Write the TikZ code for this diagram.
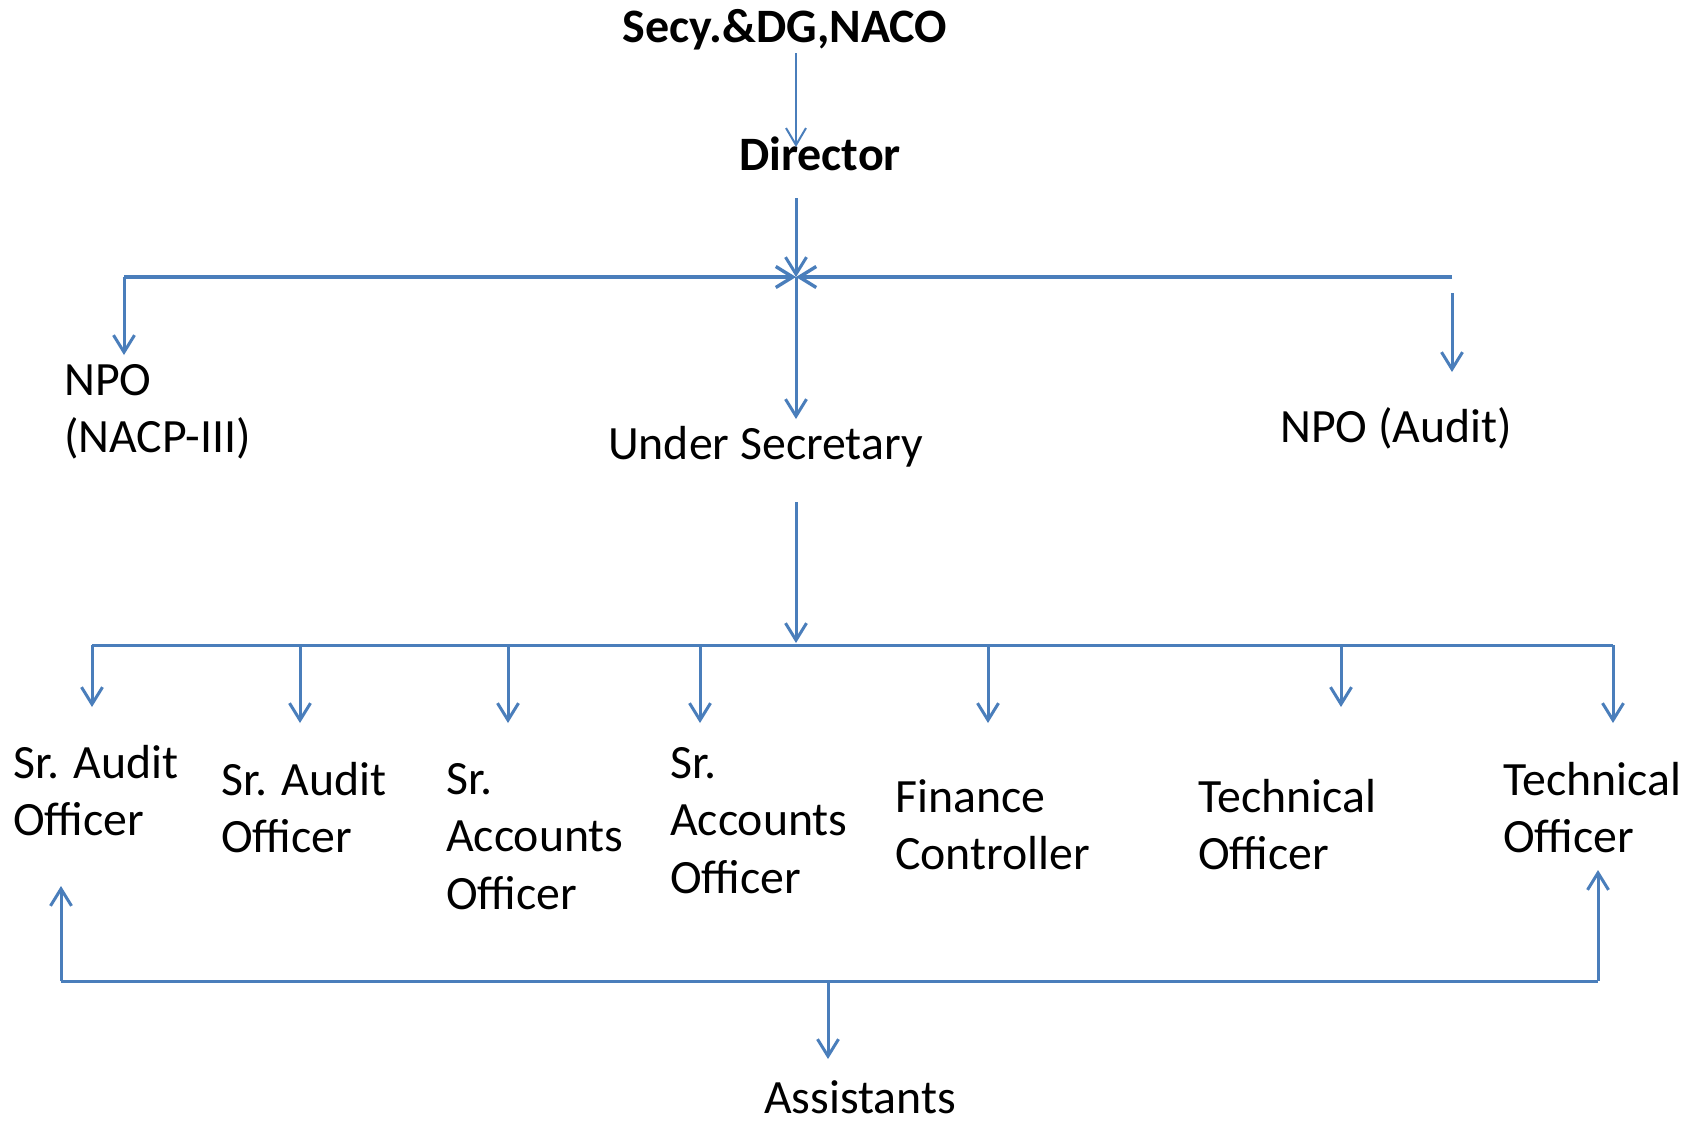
\documentclass[tikz,border=0pt]{standalone}
\usepackage{fontspec}
\setmainfont{Carlito}
\usetikzlibrary{arrows.meta}
\definecolor{lineblue}{RGB}{74,126,187}
\newcommand{\mylines}[1]{\begin{tabular}[t]{@{}l@{}}#1\end{tabular}}
\tikzset{
  lbl/.style={inner sep=0pt, anchor=base west, font=\fontsize{47.8}{57.5}\selectfont},
  boldlbl/.style={inner sep=0pt, anchor=base, font=\fontsize{48}{57.5}\selectfont\bfseries},
  conn/.style={draw=lineblue, line width=3pt},
  arr/.style={conn, -{Straight Barb[length=17pt,width=21pt]}},
  thinarr/.style={draw=lineblue, line width=2pt, -{Straight Barb[length=17pt,width=20pt]}}
}
\begin{document}
\begin{tikzpicture}[x=1pt,y=-1pt]
\useasboundingbox[fill=white] (0,0) rectangle (1696,1122);

% text nodes
\node[boldlbl] (secy) at (785,42) {Secy.\&DG,NACO};
\node[boldlbl] (dir) at (820,170) {Director};
\node[lbl] (npo1) at (64,395) {\mylines{NPO\\(NACP-III)}};
\node[lbl] (us) at (608,459) {Under Secretary};
\node[lbl] (npo2) at (1280,442) {NPO (Audit)};
\node[lbl] (sao1) at (13,778) {\mylines{Sr. Audit\\Officer}};
\node[lbl] (sao2) at (221,795) {\mylines{Sr. Audit\\Officer}};
\node[lbl] (sac1) at (446,794) {\mylines{Sr.\\Accounts\\Officer}};
\node[lbl] (sac2) at (670,778) {\mylines{Sr.\\Accounts\\Officer}};
\node[lbl] (fc) at (895,812) {\mylines{Finance\\Controller}};
\node[lbl] (to1) at (1198,812) {\mylines{Technical\\Officer}};
\node[lbl] (to2) at (1503,795) {\mylines{Technical\\Officer}};
\node[lbl, text depth=0pt] (asst) at (764,1113) {Assistants};

% connector points
\coordinate (secyb) at (796,53);
\coordinate (dirt) at (796,147);
\coordinate (dirb) at (796,198);
\coordinate (jn) at (796,277);
\coordinate (hl) at (124,277);
\coordinate (hr) at (1452,277);
\coordinate (npo1t) at (124,355);
\coordinate (npo2s) at (1452,293);
\coordinate (npo2t) at (1452,372);
\coordinate (ust) at (796,419);
\coordinate (usb) at (796,502);
\coordinate (bar) at (796,643);
\coordinate (bl) at (92,645);
\coordinate (br) at (1613,645);
\coordinate (d2) at (300,645);
\coordinate (d3) at (508,645);
\coordinate (d4) at (700,645);
\coordinate (d5) at (988,645);
\coordinate (d6) at (1341,645);
\coordinate (t1) at (92,707);
\coordinate (t2) at (300,723);
\coordinate (t3) at (508,723);
\coordinate (t4) at (700,723);
\coordinate (t5) at (988,723);
\coordinate (t6) at (1341,707);
\coordinate (t7) at (1613,723);
\coordinate (ll) at (61,981);
\coordinate (lr) at (1598,981);
\coordinate (lm) at (828,981);
\coordinate (ul) at (61,886);
\coordinate (ur) at (1598,870);
\coordinate (asstt) at (828,1059);

% connectors
\draw[thinarr] (secyb) -- (dirt);
\draw[arr] (dirb) -- (jn);
\draw[arr, line width=3.4pt] (hl) -- (jn);
\draw[arr, line width=3.4pt] (hr) -- (jn);
\draw[arr] (hl) -- (npo1t);
\draw[arr] (npo2s) -- (npo2t);
\draw[arr] (jn) -- (ust);
\draw[arr] (usb) -- (bar);
\draw[conn] (bl) -- (br);
\draw[arr] (bl) -- (t1);
\draw[arr] (d2) -- (t2);
\draw[arr] (d3) -- (t3);
\draw[arr] (d4) -- (t4);
\draw[arr] (d5) -- (t5);
\draw[arr] (d6) -- (t6);
\draw[arr] (br) -- (t7);
\draw[conn] (ll) -- (lr);
\draw[arr] (ll) -- (ul);
\draw[arr] (lr) -- (ur);
\draw[arr] (lm) -- (asstt);
\end{tikzpicture}
\end{document}
